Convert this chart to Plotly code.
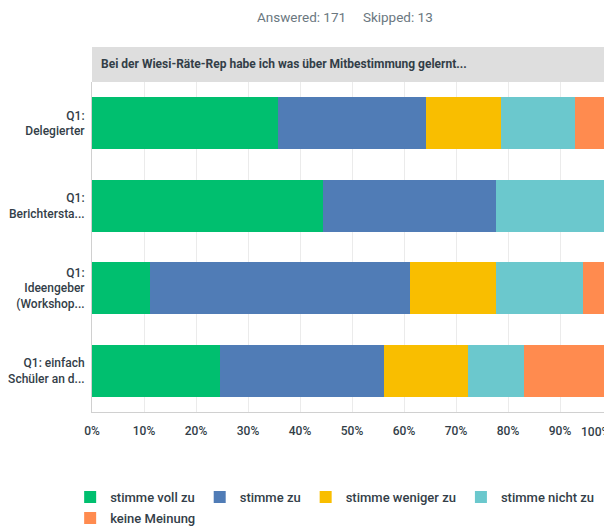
import plotly.graph_objects as go

categories = ["Q1:<br>Delegierter", "Q1:<br>Berichtersta...", "Q1:<br>Ideengeber<br>(Workshop...", "Q1: einfach<br>Schüler an d..."]
series_names = ["stimme voll zu", "stimme zu", "stimme weniger zu", "stimme nicht zu", "keine Meinung"]
stimme_voll_zu = [35.71, 44.44, 11.11, 24.62]
stimme_zu = [28.57, 33.33, 50.00, 31.54]
stimme_weniger_zu = [14.29, 0.00, 16.67, 16.15]
stimme_nicht_zu = [14.29, 22.22, 16.67, 10.77]
keine_meinung = [7.14, 0.00, 5.56, 16.92]
tick_values = [0, 10, 20, 30, 40, 50, 60, 70, 80, 90]
tick_labels = ["0%", "10%", "20%", "30%", "40%", "50%", "60%", "70%", "80%", "90%"]

colors = ["#00bf6f", "#507cb6", "#f9be00", "#6bc8cd", "#ff8b4f"]
values = [stimme_voll_zu, stimme_zu, stimme_weniger_zu, stimme_nicht_zu, keine_meinung]
legend_ids = ["legend", "legend", "legend", "legend", "legend2"]

FONT = "Roboto"
DARK = "#333e48"

fig = go.Figure()
for name, vals, col, lg in zip(series_names, values, colors, legend_ids):
    fig.add_trace(go.Bar(
        y=categories, x=vals, name=name, orientation="h", legend=lg,
        marker=dict(color=col, line=dict(width=0)),
        hovertemplate="%{x:.2f}%<extra>" + name + "</extra>",
    ))

# the page body has an 8px default margin, so the figure is offset by 8px
OFF = 8
W, H = 612 - OFF, 526 - OFF
top, bottom = 82 - OFF, 412 - OFF
left = 92 - OFF
plot_h = bottom - top
plot_w = W - left

legend_font = dict(family=FONT, size=13, color=DARK, weight=500)
fig.update_layout(
    width=W, height=H,
    margin=dict(l=left, r=0, t=top, b=H - bottom, autoexpand=False),
    barmode="stack", bargap=0.37,
    plot_bgcolor="white", paper_bgcolor="white",
    font=dict(family=FONT, color=DARK, size=12),
    showlegend=True,
    legend=dict(
        orientation="h", x=-0.042, xanchor="left", y=-(70 / plot_h), yanchor="top",
        font=legend_font, traceorder="normal", itemclick=False, itemdoubleclick=False,
    ),
    legend2=dict(
        orientation="h", x=-0.042, xanchor="left", y=-(91 / plot_h), yanchor="top",
        font=legend_font, traceorder="normal", itemclick=False, itemdoubleclick=False,
    ),
    xaxis=dict(
        range=[0, 100], tickvals=tick_values, ticktext=tick_labels,
        showgrid=True, gridcolor="#ebebeb", gridwidth=1,
        zeroline=False, showline=True, linecolor="#d0d0d0", linewidth=1,
        tickfont=dict(family=FONT, size=12, color=DARK, weight=500),
        ticks="", ticklabelstandoff=8, fixedrange=True,
    ),
    yaxis=dict(
        autorange="reversed", showgrid=False, zeroline=False,
        showline=True, linecolor="#d0d0d0", linewidth=1,
        tickfont=dict(family=FONT, size=12, color=DARK, weight=500),
        ticks="", ticklabelstandoff=4, fixedrange=True,
    ),
    shapes=[dict(
        type="rect", xref="paper", yref="paper",
        x0=0, x1=1, y0=1, y1=1 + 35 / plot_h,
        fillcolor="#dedede", line=dict(width=0), layer="below",
    )],
    annotations=[
        dict(text="<b>Bei der Wiesi-Räte-Rep habe ich was über Mitbestimmung gelernt...</b>",
             xref="paper", yref="paper", x=7 / plot_w, y=1 + 18 / plot_h,
             xanchor="left", yanchor="middle", showarrow=False,
             font=dict(family=FONT, size=12, color=DARK)),
        dict(text="Answered: 171&nbsp;&nbsp;&nbsp;&nbsp;&nbsp;Skipped: 13",
             xref="paper", yref="paper", x=(345 - 92) / plot_w, y=1 + (82 - 17) / plot_h,
             xanchor="center", yanchor="middle", showarrow=False,
             font=dict(family=FONT, size=13.5, color="#6b787f")),
        dict(text="100%", xref="paper", yref="paper", x=1, y=-(20 / plot_h),
             xanchor="right", yanchor="middle", showarrow=False,
             font=dict(family=FONT, size=12, color=DARK, weight=500)),
    ],
)

fig.write_html("out.html")
